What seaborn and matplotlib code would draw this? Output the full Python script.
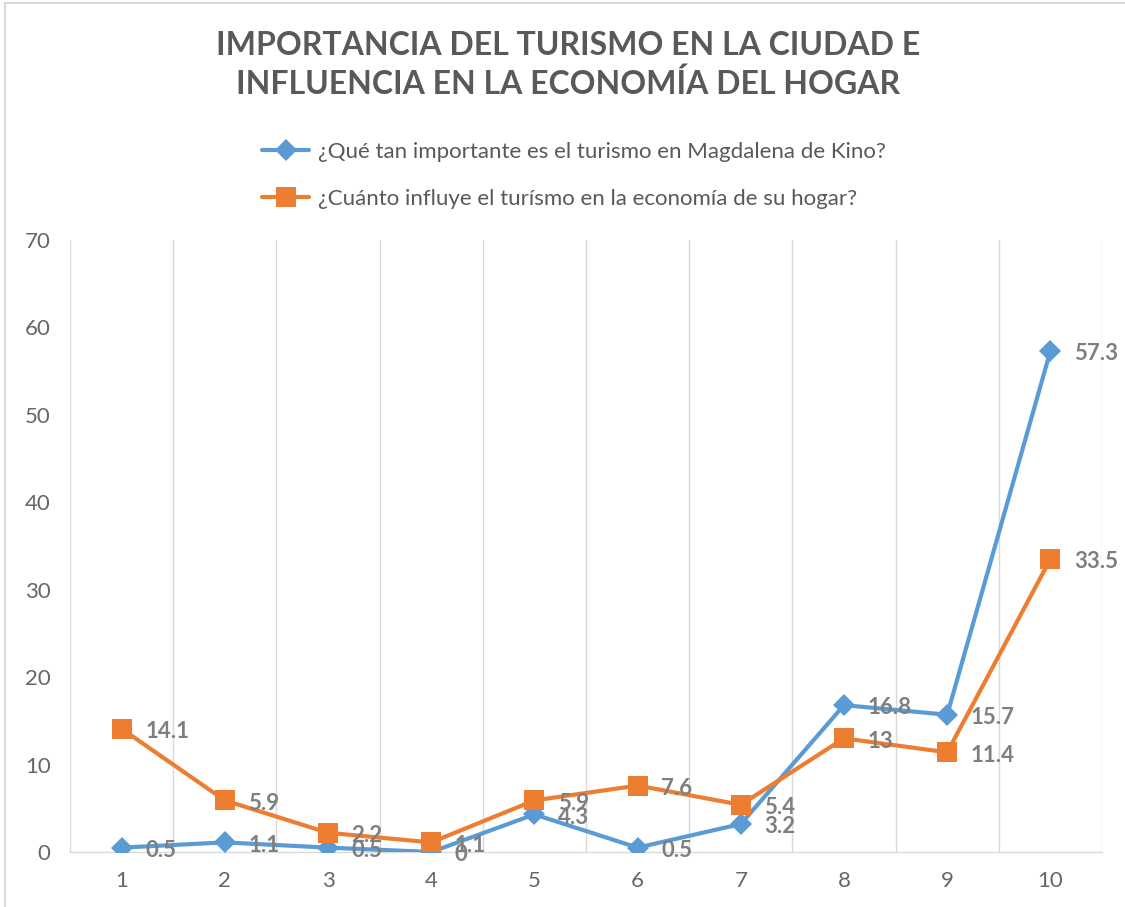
import matplotlib
matplotlib.use('Agg')
import matplotlib.pyplot as plt
import seaborn as sns
import pandas as pd
from matplotlib.lines import Line2D

# ---- data ----
categories = [1, 2, 3, 4, 5, 6, 7, 8, 9, 10]
tick_labels = ['1', '2', '3', '4', '5', '6', '7', '8', '9', '10']
serie_importancia = [0.5, 1.1, 0.5, 0, 4.3, 0.5, 3.2, 16.8, 15.7, 57.3]
serie_influencia = [14.1, 5.9, 2.2, 1.1, 5.9, 7.6, 5.4, 13, 11.4, 33.5]
nombre_importancia = '¿Qué tan importante es el turismo en Magdalena de Kino?'
nombre_influencia = '¿Cuánto influye el turísmo en la economía de su hogar?'
titulo = 'IMPORTANCIA DEL TURISMO EN LA CIUDAD E\nINFLUENCIA EN LA ECONOMÍA DEL HOGAR'
y_ticks = [0, 10, 20, 30, 40, 50, 60, 70]

BLUE = '#5B9BD5'
ORANGE = '#ED7D31'
GRAY_TXT = '#595959'
GRAY_TICK = '#666666'
GRAY_LBL = '#7F7F7F'
GRID = '#D9D9D9'

sns.set_theme(style='white')
plt.rcParams['font.family'] = ['Lato', 'DejaVu Sans']

fig = plt.figure(figsize=(11.25, 9.07), dpi=100)
ax = fig.add_axes([70 / 1125, 1 - 852 / 907, (1102 - 70) / 1125, (852 - 240) / 907])

df1 = pd.DataFrame({'x': categories, 'y': serie_importancia})
df2 = pd.DataFrame({'x': categories, 'y': serie_influencia})

sns.lineplot(data=df1, x='x', y='y', ax=ax, color=BLUE, linewidth=3,
             marker='D', markersize=11, markeredgewidth=0, zorder=3)
sns.lineplot(data=df2, x='x', y='y', ax=ax, color=ORANGE, linewidth=3,
             marker='s', markersize=14, markeredgewidth=0, zorder=3)

for xs, ys in [(categories, serie_importancia), (categories, serie_influencia)]:
    for xv, yv in zip(xs, ys):
        ax.annotate(f'{yv:g}', (xv, yv), xytext=(17, -2), textcoords='offset points',
                    ha='left', va='center', fontsize=16, fontweight='bold',
                    color=GRAY_LBL, zorder=4)

ax.set_xlim(0.5, 10.5)
ax.set_ylim(0, 70)
ax.set_xticks(categories)
ax.set_xticklabels(tick_labels)
ax.set_xticks([c + 0.5 for c in [0] + categories], minor=True)
ax.set_yticks(y_ticks)
ax.grid(False)
ax.grid(which='minor', axis='x', color=GRID, linewidth=1)
ax.tick_params(axis='both', which='both', length=0, labelsize=16, colors=GRAY_TICK)
ax.tick_params(axis='x', pad=14)
ax.tick_params(axis='y', pad=14)
ax.set_xlabel('')
ax.set_ylabel('')
for s in ['top', 'right', 'left']:
    ax.spines[s].set_visible(False)
ax.spines['bottom'].set_color(GRID)
ax.spines['bottom'].set_linewidth(1)

fig.text(0.505, 1 - 65 / 907, titulo, ha='center', va='center', fontsize=23,
         fontweight='bold', color=GRAY_TXT, linespacing=1.3)

handles = [Line2D([], [], color=BLUE, linewidth=3, marker='D', markersize=11, markeredgewidth=0),
           Line2D([], [], color=ORANGE, linewidth=3, marker='s', markersize=14, markeredgewidth=0)]
fig.legend(handles, [nombre_importancia, nombre_influencia], loc='upper center',
           bbox_to_anchor=(574 / 1125, 1 - 122 / 907), frameon=False, fontsize=16,
           labelspacing=1.2, handlelength=2.1, handletextpad=0.4, labelcolor=GRAY_TXT)

# chart frame (left and top edges visible in the reference)
fig.add_artist(Line2D([5 / 1125, 5 / 1125], [0, 1 - 3 / 907], transform=fig.transFigure,
                      color=GRID, linewidth=1.5))
fig.add_artist(Line2D([5 / 1125, 1], [1 - 3 / 907, 1 - 3 / 907], transform=fig.transFigure,
                      color=GRID, linewidth=1.5))

fig.savefig('out.png', dpi=100)
